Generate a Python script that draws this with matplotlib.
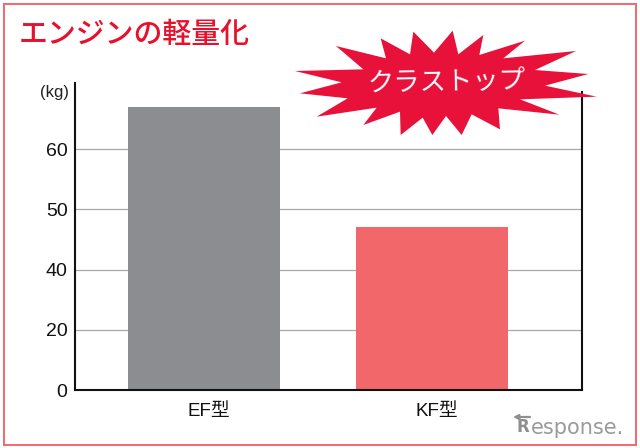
import numpy as np
import matplotlib
matplotlib.use("Agg")
import matplotlib.pyplot as plt
from matplotlib.patches import Polygon, Rectangle
from matplotlib.transforms import ScaledTranslation

plt.rcParams['font.family'] = ['Liberation Sans', 'Noto Sans CJK JP', 'DejaVu Sans']

categories = ["EF型", "KF型"]
weights = [67, 47]
bar_colors = ["#8c8d90", "#f2686a"]
tick_values = [0, 20, 40, 50, 60]
tick_slots = [0, 1, 2, 3, 4]

W, H = 640, 448
RED = "#e8113a"

# the printed axis is not linear, the ticks are evenly spaced: 0 20 40 50 60
def forward(v):
    v = np.asarray(v, dtype=float)
    return np.where(v > 60, 4 + (v - 60) / 10, np.interp(v, tick_values, tick_slots))

def inverse(s):
    s = np.asarray(s, dtype=float)
    return np.where(s > 4, 60 + (s - 4) * 10, np.interp(s, tick_slots, tick_values))

fig = plt.figure(figsize=(W / 100, H / 100), dpi=100)

# background layer in pixel coordinates, for the frame, heading and burst
bg = fig.add_axes([0, 0, 1, 1])
bg.set_xlim(0, W)
bg.set_ylim(H, 0)
bg.axis("off")
bg.add_patch(Rectangle((3.5, 4), 632, 441, fill=False, ec="#f0686e", lw=1.4))
bg.text(19, 35, "エンジンの軽量化", color="#e8112d", fontsize=20.8, fontweight="medium",
        va="center", ha="left")
bg.text(40, 92, "(kg)", color="#222222", fontsize=12, va="center", ha="left")

# main chart
left, right, top, bottom = 74.5, 581.5, 83, 390
ax = fig.add_axes([left / W, 1 - bottom / H, (right - left) / W, (bottom - top) / H])
ax.patch.set_alpha(0)
ax.set_yscale("function", functions=(forward, inverse))
ax.set_ylim(0, 71)
ax.set_xlim(-0.568, 1.656)
ax.set_yticks(tick_values)
ax.set_yticklabels([str(t) for t in tick_values], fontsize=14, color="#111111")
ax.minorticks_off()
ax.set_xticks(range(len(categories)))
ax.set_xticklabels(categories, fontsize=13.5, color="#111111")
ax.tick_params(axis="both", length=0)
ax.tick_params(axis="y", pad=5)
ax.tick_params(axis="x", pad=9)
# labels sit a little right of the bar centres in the original
for lab in ax.get_xticklabels():
    lab.set_transform(lab.get_transform() + ScaledTranslation(4.5 / 100, 0, fig.dpi_scale_trans))
ax.grid(axis="y", color="#a8a8a8", lw=0.9)
ax.set_axisbelow(True)
ax.bar(range(len(categories)), weights, width=0.667, color=bar_colors, zorder=2)
for s in ("left", "bottom", "right"):
    ax.spines[s].set_linewidth(1.5)
    ax.spines[s].set_color("#111111")
ax.spines["top"].set_visible(False)
ax.spines["right"].set_bounds(0, 69.5)

# overlay on top of the right axis line
fg = fig.add_axes([0, 0, 1, 1])
fg.set_xlim(0, W)
fg.set_ylim(H, 0)
fg.axis("off")
fg.patch.set_alpha(0)
burst = [(45, 153), (250, 148), (168, 78), (318, 115), (302, 55), (390, 103), (400, 35),
         (462, 98), (518, 32), (535, 103), (610, 45), (598, 105), (735, 62), (670, 115),
         (888, 93), (765, 150), (925, 162), (795, 197), (950, 230), (720, 238), (838, 284),
         (655, 265), (660, 328), (575, 283), (545, 345), (498, 288), (457, 345), (428, 293),
         (362, 345), (360, 275), (250, 315), (290, 263), (110, 290), (203, 235), (60, 220),
         (185, 187)]
fg.add_patch(Polygon([(x / 3 + 280, y / 3 + 20) for x, y in burst], fc=RED, ec="none"))
fg.text(446, 82, "クラストップ", color="white", fontsize=19, ha="center", va="center", rotation=1)

# watermark
fg.text(516, 427, "R", color="#8f8f8f", fontsize=12, fontweight="bold",
        va="center", ha="left", family="DejaVu Sans")
fg.annotate("", xy=(513, 417), xytext=(530, 417),
            arrowprops=dict(arrowstyle="-|>", color="#8f8f8f", lw=1.6, mutation_scale=7,
                            shrinkA=0, shrinkB=0))
fg.text(531, 428, "esponse.", color="#9a9a9a", fontsize=15, va="center", ha="left",
        family="DejaVu Sans")

fig.savefig("out.png", dpi=100)
